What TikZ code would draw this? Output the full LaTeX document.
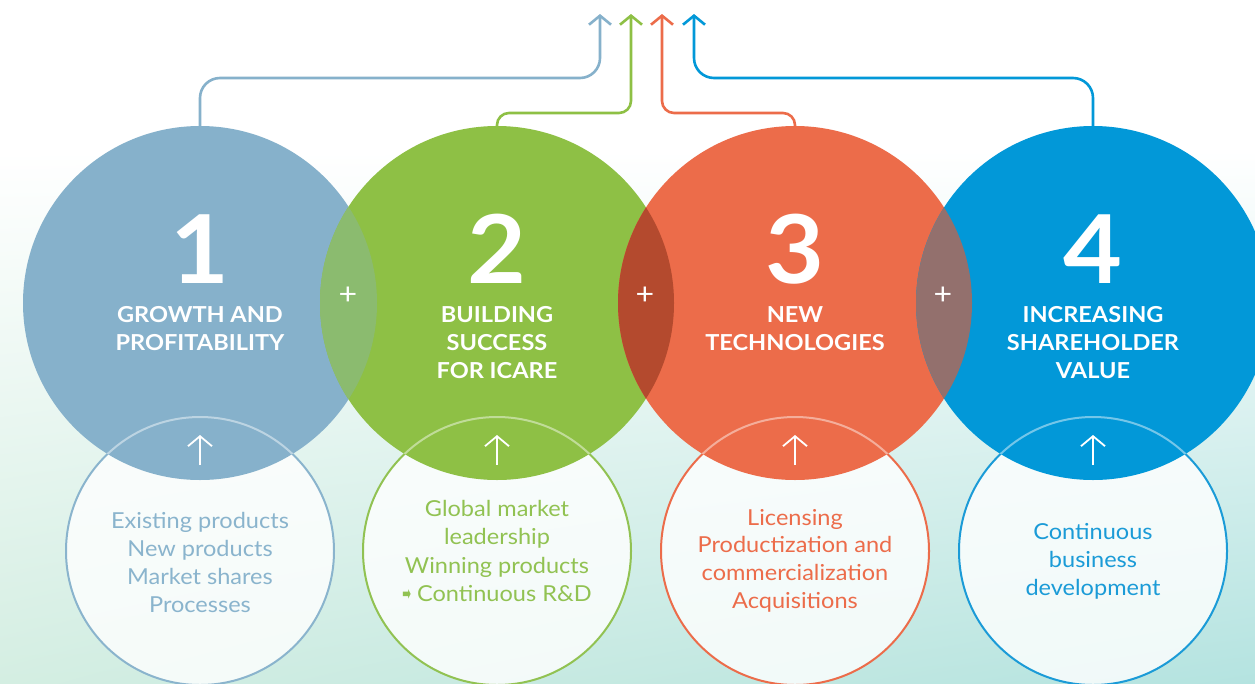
\documentclass[tikz,border=0pt]{standalone}
\usepackage{fontspec}
\setmainfont{Lato}[FakeStretch=1.07]
\newfontfamily\symfont{DejaVu Sans}
\usetikzlibrary{arrows.meta,shadings}

% palette
\definecolor{cA}{RGB}{134,177,203}
\definecolor{cB}{RGB}{142,192,69}
\definecolor{cC}{RGB}{236,108,74}
\definecolor{cD}{RGB}{2,152,216}
\definecolor{ovAB}{RGB}{139,187,111}
\definecolor{ovBC}{RGB}{180,74,46}
\definecolor{ovCD}{RGB}{147,112,109}
\definecolor{tA}{RGB}{138,180,205}
\definecolor{tB}{RGB}{145,194,82}
\definecolor{tC}{RGB}{236,108,74}
\definecolor{tD}{RGB}{27,155,215}
\definecolor{bgL}{RGB}{212,238,226}
\definecolor{bgR}{RGB}{180,227,224}

\pgfdeclarelayer{back}
\pgfsetlayers{back,main}

\begin{document}
\begin{tikzpicture}[x=1pt,y=-1pt,
  bigcirc/.style={circle, inner sep=0pt, outer sep=0pt, minimum size=354pt},
  smallcirc/.style={circle, inner sep=0pt, outer sep=0pt, minimum size=268pt,
    line width=2pt, fill=white, fill opacity=0.8},
  conn/.style={line width=2.6pt, -{Straight Barb[length=9pt,width=22pt]}},
  uparrow/.style={white, line width=1.8pt, -{Straight Barb[length=10pt,width=24pt]}},
  numlabel/.style={anchor=base, text=white, inner sep=0pt,
    font=\fontsize{95}{95}\selectfont\bfseries},
  titleline/.style={anchor=base, text=white, inner sep=0pt,
    font=\fontsize{22}{28}\selectfont\bfseries},
  bodyline/.style={anchor=base, inner sep=0pt, font=\fontsize{22}{28}\selectfont},
  plusmark/.style={text=white, inner sep=0pt, font=\fontsize{30}{30}\selectfont},
]
\useasboundingbox (0,0) rectangle (1255,683);
\clip (0,0) rectangle (1255,683);

% lower circles
\node[smallcirc, draw=tA] (small1) at (200,551) {};
\node[smallcirc, draw=tB] (small2) at (497,551) {};
\node[smallcirc, draw=tC] (small3) at (795,551) {};
\node[smallcirc, draw=tD] (small4) at (1093,551) {};

% main circles
\node[bigcirc, fill=cA] (big1) at (200,303) {};
\node[bigcirc, fill=cB] (big2) at (497,303) {};
\node[bigcirc, fill=cC] (big3) at (795,303) {};
\node[bigcirc, fill=cD] (big4) at (1093,303) {};

% lens-shaped overlaps
\begin{scope}
  \clip (big1.center) circle[radius=177pt];
  \fill[ovAB] (big2.center) circle[radius=177pt];
\end{scope}
\begin{scope}
  \clip (big2.center) circle[radius=177pt];
  \fill[ovBC] (big3.center) circle[radius=177pt];
\end{scope}
\begin{scope}
  \clip (big3.center) circle[radius=177pt];
  \fill[ovCD] (big4.center) circle[radius=177pt];
\end{scope}

% pale arcs of the lower circles inside the main circles
\foreach \k in {1,2,3,4}{
  \begin{scope}
    \clip (big\k.center) circle[radius=177pt];
    \draw[white, opacity=0.45, line width=2pt] (small\k.center) circle[radius=134pt];
  \end{scope}
}

% background and connectors behind everything
\coordinate (tip1) at (600,14);
\coordinate (tip2) at (631,14);
\coordinate (tip3) at (662,14);
\coordinate (tip4) at (694,14);
\begin{pgfonlayer}{back}
  \fill[white] (0,0) rectangle (1255,683);
  \shade[upper left=white, upper right=white, lower left=bgL, lower right=bgR]
    (0,150) rectangle (1255,683);
  \draw[conn, cA, rounded corners=20pt] (big1.north) -- (200,78) -- (600,78) -- (tip1);
  \draw[conn, cB] (big2.north) [rounded corners=12pt] -- (497,113) -- (631,113)
    [rounded corners=20pt] -- (tip2);
  \draw[conn, cC] (big3.north) [rounded corners=12pt] -- (795,113) -- (662,113)
    [rounded corners=20pt] -- (tip3);
  \draw[conn, cD, rounded corners=20pt] (big4.north) -- (1093,78) -- (694,78) -- (tip4);
\end{pgfonlayer}

% small up arrows
\foreach \k in {1,2,3,4}
  \draw[uparrow] ([yshift=-48pt]small\k.north) -- ([yshift=-18pt]small\k.north);

% plus signs
\node[plusmark] (plusAB) at (348,296) {+};
\node[plusmark] (plusBC) at (645,296) {+};
\node[plusmark] (plusCD) at (943,296) {+};

% numbers
\node[numlabel] (num1) at (200,283) {1};
\node[numlabel] (num2) at (497,283) {2};
\node[numlabel] (num3) at (795,283) {3};
\node[numlabel] (num4) at (1093,283) {4};

% titles
\foreach \t [count=\i] in {GROWTH AND, PROFITABILITY}
  \node[titleline] (headA\i) at (200,294+28*\i) {\t};
\foreach \t [count=\i] in {BUILDING, SUCCESS, FOR ICARE}
  \node[titleline] (headB\i) at (497,294+28*\i) {\t};
\foreach \t [count=\i] in {NEW, TECHNOLOGIES}
  \node[titleline] (headC\i) at (795,294+28*\i) {\t};
\foreach \t [count=\i] in {INCREASING, SHAREHOLDER, VALUE}
  \node[titleline] (headD\i) at (1093,294+28*\i) {\t};

% descriptions
\foreach \t [count=\i] in {Existing products, New products, Market shares, Processes}
  \node[bodyline, text=tA] (textA\i) at (200,500+28*\i) {\t};
\foreach \t [count=\i] in {Global market, leadership, Winning products,
    {{\symfont\fontsize{13}{13}\selectfont\raisebox{1.5pt}{\scalebox{0.8}[1.5]{➡}}}\ Continuous R\&D}}
  \node[bodyline, text=tB] (textB\i) at (497,487.5+28.5*\i) {\t};
\foreach \t [count=\i] in {Licensing, Productization and, commercialization, Acquisitions}
  \node[bodyline, text=tC] (textC\i) at (795,497.3+27.7*\i) {\t};
\foreach \t [count=\i] in {Continuous, business, development}
  \node[bodyline, text=tD] (textD\i) at (1093,511+28*\i) {\t};
\end{tikzpicture}
\end{document}
